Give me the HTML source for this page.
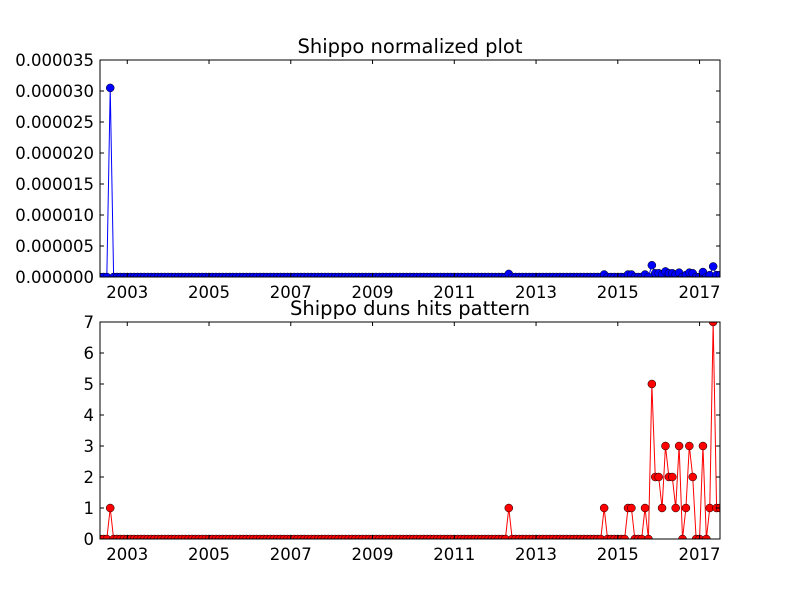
<!DOCTYPE html>
<html><head><meta charset="utf-8"><style>
body{margin:0;background:#fff}
svg text{font-family:"DejaVu Sans","Liberation Sans",sans-serif}
</style></head><body>
<svg id="c" width="800" height="600" xmlns="http://www.w3.org/2000/svg"></svg>
<script>
const hits = [
0,0,0,1,0,0,0,0,0,0,0,0,0,0,0,0,0,0,0,0,
0,0,0,0,0,0,0,0,0,0,0,0,0,0,0,0,0,0,0,0,
0,0,0,0,0,0,0,0,0,0,0,0,0,0,0,0,0,0,0,0,
0,0,0,0,0,0,0,0,0,0,0,0,0,0,0,0,0,0,0,0,
0,0,0,0,0,0,0,0,0,0,0,0,0,0,0,0,0,0,0,0,
0,0,0,0,0,0,0,0,0,0,0,0,0,0,0,0,0,0,0,0,
1,0,0,0,0,0,0,0,0,0,0,0,0,0,0,0,0,0,0,0,
0,0,0,0,0,0,0,0,1,0,0,0,0,0,0,1,1,0,0,0,
1,0,5,2,2,1,3,2,2,1,3,0,1,3,2,0,0,3,0,1,
7,1,1];
const norm = [
0,0,0,3.05e-5,0,0,0,0,0,0,0,0,0,0,0,0,0,0,0,0,
0,0,0,0,0,0,0,0,0,0,0,0,0,0,0,0,0,0,0,0,
0,0,0,0,0,0,0,0,0,0,0,0,0,0,0,0,0,0,0,0,
0,0,0,0,0,0,0,0,0,0,0,0,0,0,0,0,0,0,0,0,
0,0,0,0,0,0,0,0,0,0,0,0,0,0,0,0,0,0,0,0,
0,0,0,0,0,0,0,0,0,0,0,0,0,0,0,0,0,0,0,0,
5e-7,0,0,0,0,0,0,0,0,0,0,0,0,0,0,0,0,0,0,0,
0,0,0,0,0,0,0,0,4e-7,0,0,0,0,0,0,4e-7,4e-7,0,0,0,
4e-7,0,1.9e-6,6e-7,6e-7,4e-7,9e-7,6e-7,6e-7,4e-7,7e-7,0,3e-7,7e-7,6e-7,0,0,8e-7,0,3e-7,
1.7e-6,3e-7,3e-7];
const startYear = 2002.333;
const xTicks = [2003,2005,2007,2009,2011,2013,2015,2017];
const topTicks = [0,5e-6,1e-5,1.5e-5,2e-5,2.5e-5,3e-5,3.5e-5];
const topTickLabels = ["0.000000","0.000005","0.000010","0.000015","0.000020","0.000025","0.000030","0.000035"];
const botTicks = [0,1,2,3,4,5,6,7];

const svg = document.getElementById('c');
const NS = 'http://www.w3.org/2000/svg';
function mk(tag, attrs, parent){const e=document.createElementNS(NS,tag);for(const k in attrs)e.setAttribute(k,attrs[k]);(parent||svg).appendChild(e);return e;}
const X0=100,X1=720, xMin=2002.333, xMax=2017.5;
const xs = v => X0 + (v-xMin)/(xMax-xMin)*(X1-X0);

function panel(top,bottom,yMax,vals,ticks,labels,color,title,name){
  const ys = v => bottom - v/yMax*(bottom-top);
  const g = mk('g',{});
  
  
  const pts = vals.map((v,i)=>[xs(startYear+i/12), ys(v)]);
  const clip = mk('clipPath',{id:'cl'+name},g);
  mk('rect',{x:X0,y:top,width:X1-X0,height:bottom-top},clip);
  const dg = mk('g',{'clip-path':'url(#cl'+name+')'},g);
  const line = mk('polyline',{points:pts.map(p=>p.join(',')).join(' '),fill:'none',stroke:color,'stroke-width':1},dg);
  
  
  pts.forEach((p,i)=>{
    const c = mk('circle',{cx:p[0],cy:p[1],r:4,fill:color,stroke:'#000','stroke-width':0.5},dg);
    
    
  });
  mk('rect',{x:X0,y:top,width:X1-X0,height:bottom-top,fill:'none',stroke:'#000','stroke-width':1},g);
  xTicks.forEach(t=>{
    const x=xs(t);
    mk('line',{x1:x,x2:x,y1:bottom,y2:bottom-4,stroke:'#000'},g);
    mk('line',{x1:x,x2:x,y1:top,y2:top+4,stroke:'#000'},g);
    const tx = mk('text',{x:x,y:bottom+21,'font-size':16.5,'text-anchor':'middle'},g);
    tx.textContent=t;
    
    
  });
  ticks.forEach((t,i)=>{
    const y=ys(t);
    mk('line',{x1:X0,x2:X0+4,y1:y,y2:y,stroke:'#000'},g);
    mk('line',{x1:X1,x2:X1-4,y1:y,y2:y,stroke:'#000'},g);
    const tx = mk('text',{x:X0-6,y:y+6,'font-size':16.5,'text-anchor':'end'},g);
    tx.textContent=labels[i];
    
    
  });
  const tt = mk('text',{x:(X0+X1)/2,y:top-7,'font-size':19.5,'text-anchor':'middle'},g);
  tt.textContent=title;
  
  
}
mk('rect',{x:0,y:0,width:800,height:600,fill:'#fff'});
panel(60,277,3.5e-5,norm,topTicks,topTickLabels,'#0000ff','Shippo normalized plot','normalized-panel');
panel(322,539,7,hits,botTicks,botTicks.map(String),'#ff0000','Shippo duns hits pattern','hits-panel');
</script>
</body></html>
